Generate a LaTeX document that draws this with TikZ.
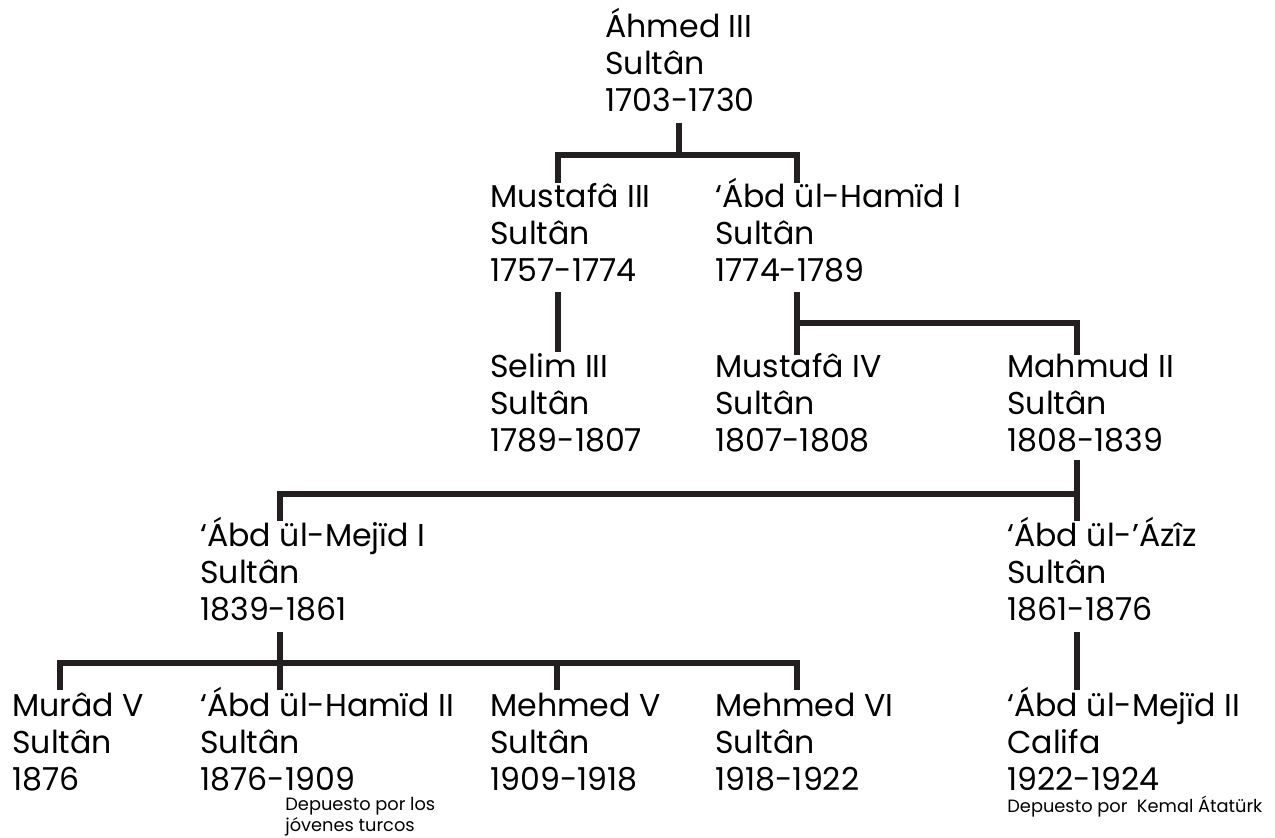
\documentclass[tikz,border=0pt]{standalone}
\usepackage{fontspec}
\setmainfont{Poppins}
\definecolor{stem}{RGB}{35,31,32}
\tikzset{
  person/.style={anchor=base west, inner sep=0pt, align=left,
    font=\fontsize{15.8}{18.5}\selectfont},
  note/.style={anchor=base west, inner sep=0pt, align=left,
    font=\fontsize{8.9}{10.2}\selectfont},
  link/.style={draw=stem, line width=3.25pt, line join=miter}
}
\begin{document}
\begin{tikzpicture}[x=0.5pt, y=-0.5pt]
  \useasboundingbox (0,0) rectangle (1275,837);

  \node[person] (ahmed) at (605,111) {Áhmed III\\Sultân\\1703-1730};

  \node[person] (mustafa3) at (490,281) {Mustafâ III\\Sultân\\1757-1774};
  \node[person] (hamid1) at (715,281) {‘Ábd ül-Hamïd I\\Sultân\\1774-1789};

  \node[person] (selim3) at (490,451) {Selim III\\Sultân\\1789-1807};
  \node[person] (mustafa4) at (715,451) {Mustafâ IV\\Sultân\\1807-1808};
  \node[person] (mahmud2) at (1007,451) {Mahmud II\\Sultân\\1808-1839};

  \node[person] (mejid1) at (200,620) {‘Ábd ül-Mejïd I\\Sultân\\1839-1861};
  \node[person] (aziz) at (1007,620) {‘Ábd ül-’Ázîz\\Sultân\\1861-1876};

  \node[person] (murad5) at (12,790) {Murâd V\\Sultân\\1876};
  \node[person] (hamid2) at (200,790) {‘Ábd ül-Hamïd II\\Sultân\\1876-1909};
  \node[person] (mehmed5) at (490,790) {Mehmed V\\Sultân\\1909-1918};
  \node[person] (mehmed6) at (715,790) {Mehmed VI\\Sultân\\1918-1922};
  \node[person] (mejid2) at (1007,790) {‘Ábd ül-Mejïd II\\Califa\\1922-1924};

  \node[note] (hamid2-note) at (285,831) {Depuesto por los\\jóvenes turcos};
  \node[note] (mejid2-note) at (1007,812) {Depuesto por\ \ Kemal Átatürk};

  \coordinate (ahmed-d) at (679,123);
  \coordinate (mustafa3-u) at (558,183);
  \coordinate (mustafa3-d) at (558,292);
  \coordinate (hamid1-u) at (797,183);
  \coordinate (hamid1-d) at (797,292);
  \coordinate (selim3-u) at (558,352);
  \coordinate (mustafa4-u) at (797,355);
  \coordinate (mahmud2-u) at (1077,355);
  \coordinate (mahmud2-d) at (1077,460);
  \coordinate (mejid1-u) at (280,521);
  \coordinate (mejid1-d) at (280,632);
  \coordinate (aziz-u) at (1077,521);
  \coordinate (aziz-d) at (1077,632);
  \coordinate (murad5-u) at (60,690);
  \coordinate (hamid2-u) at (280,690);
  \coordinate (mehmed5-u) at (557,690);
  \coordinate (mehmed6-u) at (797,690);
  \coordinate (mejid2-u) at (1077,690);

  \draw[link] (ahmed-d) -- ++(0,32);
  \draw[link] (mustafa3-u) -- ++(0,-28) -| (hamid1-u);
  \draw[link] (mustafa3-d) -- (selim3-u);
  \draw[link] (hamid1-d) -- (mustafa4-u);
  \draw[link] (hamid1-d) ++(0,31) -| (mahmud2-u);
  \draw[link] (mahmud2-d) -- (aziz-u);
  \draw[link] (mejid1-u) -- ++(0,-27) -| (mahmud2-d);
  \draw[link] (mejid1-d) -- (hamid2-u);
  \draw[link] (murad5-u) -- ++(0,-27) -| (mehmed6-u);
  \draw[link] (mehmed5-u) -- ++(0,-27);
  \draw[link] (aziz-d) -- (mejid2-u);
\end{tikzpicture}
\end{document}
